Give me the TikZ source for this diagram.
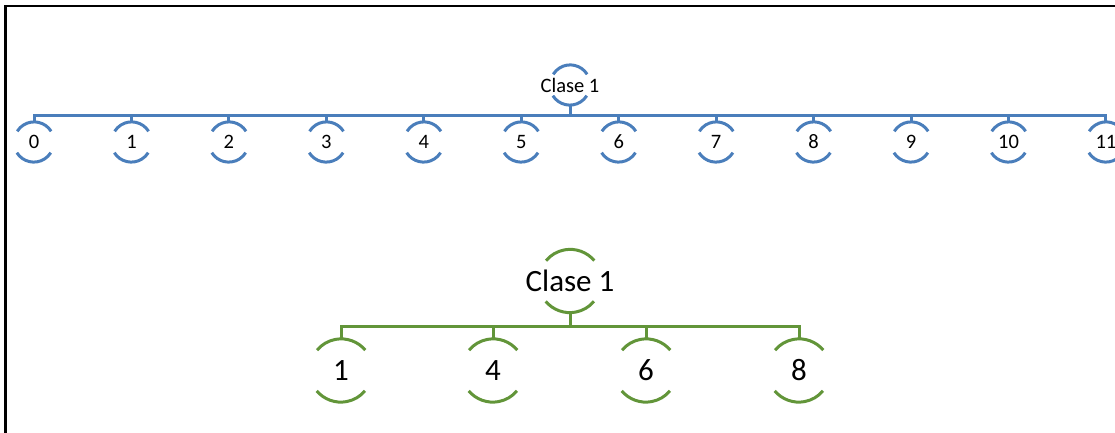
\documentclass[tikz,border=0pt]{standalone}
\usepackage{fontspec}
\setmainfont{Carlito}
\definecolor{clblue}{RGB}{74,126,187}
\definecolor{clgreen}{RGB}{98,149,57}
\begin{document}
\begin{tikzpicture}[x=1pt, y=1pt,
    small/.style={circle, minimum size=40pt, inner sep=0pt, font=\fontsize{20.5}{24}\selectfont},
    big/.style={circle, minimum size=63pt, inner sep=0pt, font=\fontsize{31}{36}\selectfont},
    blueline/.style={draw=clblue, line width=3pt},
    greenline/.style={draw=clgreen, line width=3pt},
]
\useasboundingbox (0,0) rectangle (1115,433);
% Marco
\draw[line width=2.5pt] (5.3,-20) -- (5.3,427) -- (1130,427);

% Árbol con las 12 clases
\node[small] (a) at (570,348) {\makebox[0pt]{Clase 1}};
\draw[blueline] (a.32) arc[start angle=32, end angle=148, radius=20pt]
  (a.212) arc[start angle=212, end angle=328, radius=20pt];
\foreach \i in {0,...,11} {
  \node[small] (a\i) at ({34+97.45*\i},291) {\makebox[0pt]{\i}};
  \draw[blueline] (a.south) -- ++(0,-10) -| (a\i.north);
  \draw[blueline] (a\i.32) arc[start angle=32, end angle=148, radius=20pt]
    (a\i.212) arc[start angle=212, end angle=328, radius=20pt];
}

% Árbol reducido
\node[big] (b) at (570,152) {\makebox[0pt]{Clase 1}};
\draw[greenline] (b.40) arc[start angle=40, end angle=140, radius=31.5pt]
  (b.220) arc[start angle=220, end angle=320, radius=31.5pt];
\foreach \k/\x in {1/341,4/493,6/646,8/799} {
  \node[big] (b\k) at (\x,62.5) {\makebox[0pt]{\k}};
  \draw[greenline] (b.south) -- ++(0,-13.5) -| (b\k.north);
  \draw[greenline] (b\k.40) arc[start angle=40, end angle=140, radius=31.5pt]
    (b\k.220) arc[start angle=220, end angle=320, radius=31.5pt];
}
\end{tikzpicture}
\end{document}
